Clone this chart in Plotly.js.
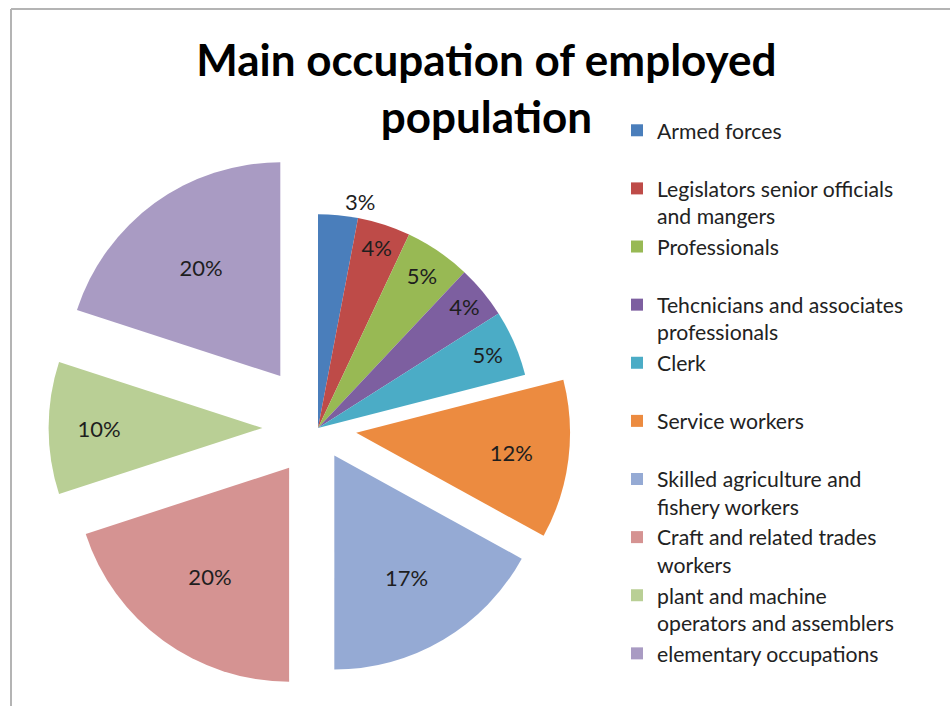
<!DOCTYPE html>
<html>
<head>
<meta charset="utf-8">
<script src="https://cdn.plot.ly/plotly-3.0.1.min.js"></script>
<style>html,body{margin:0;padding:0;background:#fff;}#chart{width:950px;height:706px;}</style>
</head>
<body>
<div id="chart"></div>
<script>
var categories = [
  "Armed forces<br>\u00a0",
  "Legislators senior officials<br>and mangers",
  "Professionals<br>\u00a0",
  "Tehcnicians and associates<br>professionals",
  "Clerk<br>\u00a0",
  "Service workers<br>\u00a0",
  "Skilled agriculture and<br>fishery workers",
  "Craft and related trades<br>workers",
  "plant and machine<br>operators and assemblers",
  "elementary occupations<br>\u00a0"
];
var shares = [3, 4, 5, 4, 5, 12, 17, 20, 10, 20];
var sliceColors = ["#4a7ebb", "#be4b48", "#98b954", "#7d5fa0", "#4bacc6",
                   "#ec8b40", "#95aad4", "#d59392", "#b9cf95", "#a99bc3"];
var explode = [0, 0, 0, 0, 0, 0.18, 0.15, 0.23, 0.26, 0.30];
var labelPlacement = ["outside", "inside", "inside", "inside", "inside",
                      "inside", "inside", "inside", "inside", "inside"];

var trace = {
  type: "pie",
  labels: categories,
  values: shares,
  sort: false,
  direction: "clockwise",
  rotation: 0,
  pull: explode,
  marker: {colors: sliceColors, line: {width: 0}},
  textinfo: "percent",
  textposition: labelPlacement,
  insidetextorientation: "horizontal",
  textfont: {family: "Lato, sans-serif", size: 22, color: "#1e1e1e"},
  outsidetextfont: {family: "Lato, sans-serif", size: 22, color: "#1e1e1e"},
  hoverinfo: "label+percent",
  domain: {x: [0.04, 0.6295], y: [0, 0.7875]}
};

var layout = {
  width: 950,
  height: 706,
  margin: {l: 0, r: 0, t: 0, b: 0},
  paper_bgcolor: "#ffffff",
  plot_bgcolor: "#ffffff",
  font: {family: "Lato, sans-serif", color: "#1e1e1e"},
  uniformtext: {mode: "show", minsize: 22},
  title: {
    text: "<b>Main occupation of employed<br>population</b>",
    font: {family: "Lato, sans-serif", size: 44, color: "#000000"},
    x: 0.512, xanchor: "center", xref: "container",
    y: 0.893, yanchor: "top", yref: "container"
  },
  showlegend: true,
  legend: {
    x: 617 / 950, xanchor: "left",
    y: 1 - 110 / 706, yanchor: "top",
    valign: "top",
    font: {family: "Lato, sans-serif", size: 21.2, color: "#222222"},
    bgcolor: "rgba(0,0,0,0)",
    traceorder: "normal"
  },
  shapes: [
    {type: "line", xref: "paper", yref: "paper", x0: 11 / 950, x1: 1.01, y0: 1 - 9 / 706, y1: 1 - 9 / 706,
     line: {color: "#b4b4b4", width: 2}},
    {type: "line", xref: "paper", yref: "paper", x0: 11 / 950, x1: 11 / 950, y0: 1 - 9 / 706, y1: -0.01,
     line: {color: "#b4b4b4", width: 2}}
  ]
};

Plotly.newPlot("chart", [trace], layout, {displayModeBar: false, staticPlot: true});
</script>
</body>
</html>
